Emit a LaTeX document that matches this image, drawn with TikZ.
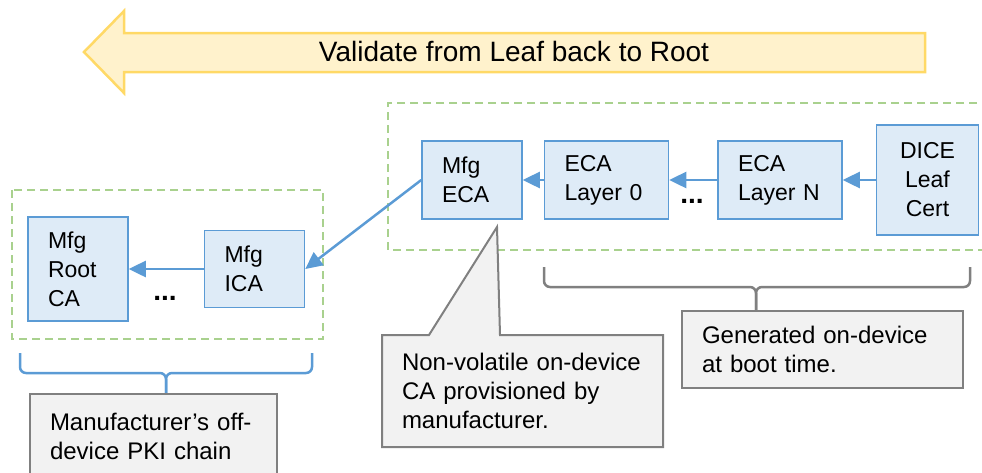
\documentclass[tikz,border=0pt]{standalone}
\usepackage{fontspec}
\setmainfont{Liberation Sans}
\usepackage{tikz}
\usetikzlibrary{positioning}
\usetikzlibrary{arrows.meta}

\definecolor{certfill}{HTML}{DEEBF7}
\definecolor{certblue}{HTML}{5B9BD5}
\definecolor{groupgreen}{HTML}{A9D18E}
\definecolor{bannerfill}{HTML}{FFF2CC}
\definecolor{bannerline}{HTML}{FFD966}
\definecolor{notefill}{HTML}{F2F2F2}
\definecolor{notegray}{HTML}{808080}

\begin{document}
\begin{tikzpicture}
      [x=1pt,y=-1pt,
       cert/.style={draw=certblue,fill=certfill,line width=1.5pt,align=left,inner xsep=20pt,font=\fontsize{23}{29}\selectfont},
       note/.style={draw=notegray,fill=notefill,line width=2pt,align=left,inner xsep=20pt,font=\fontsize{24}{29}\selectfont},
       link/.style={draw=certblue,line width=2.5pt,-{Triangle[length=17pt,width=16pt]}},
       group/.style={draw=groupgreen,line width=2.5pt,dash pattern=on 8pt off 5pt},
       bracket/.style={line width=2.5pt,rounded corners=6pt},
       gap/.style={font=\fontsize{28}{30}\selectfont\bfseries}]
    \useasboundingbox (0,0) rectangle (982,472);

    % validation direction
    \draw[fill=bannerfill,draw=bannerline,line width=2.5pt]
          (925,33) -- (124,33) -- (124,11) -- (84,52) -- (124,93) -- (124,72) -- (925,72) -- cycle;
    \node[font=\fontsize{28}{34}\selectfont,anchor=base] (validate) at (514,61) {Validate from Leaf back to Root};

    % groups
    \draw[group] (12,190) rectangle (323,339);
    \draw[group] (990,103) -| (388,250) -- (990,250);

    % on-device chain
    \node[cert,text width=60pt,minimum height=78pt]  (mfgeca)  at (472,180) {Mfg\\ECA};
    \node[cert,text width=84pt,minimum height=78pt]  (layer0)  [right=21pt of mfgeca] {ECA\\Layer 0};
    \node[cert,text width=84pt,minimum height=78pt]  (layerN)  [right=48pt of layer0] {ECA\\Layer~N};
    \node[cert,text width=62pt,minimum height=110pt,align=center]  (dice)  [right=33pt of layerN] {DICE\\Leaf\\Cert};
    \node[gap]  (gapN)  at (692,201) {...};

    % off-device chain
    \node[cert,text width=60pt,minimum height=104pt]  (root)  at (78,269) {Mfg\\Root\\CA};
    \node[cert,text width=60pt,minimum height=77pt]  (ica)  [right=75pt of root] {Mfg\\ICA};
    \node[gap]  (gapICA)  at (165,298) {...};

    \draw[link] (dice) -- (layerN);
    \draw[link] (layerN) -- (layer0);
    \draw[link] (layer0) -- (mfgeca);
    \draw[link] (mfgeca.west) -- (ica.east);
    \draw[link] (ica) -- (root);

    % braces
    \draw[bracket,draw=certblue] (20,353) |- (166,373) -- (166,393);
    \draw[bracket,draw=certblue] (312,353) |- (166,373) -- (166,393);
    \draw[bracket,draw=notegray] (544,267) |- (756,287) -- (756,310);
    \draw[bracket,draw=notegray] (970,267) |- (756,287) -- (756,310);

    % notes
    \node[note,text width=207pt,minimum height=84pt,anchor=north west]  (offdevice)  at (29,393) {Manufacturer’s off-\\device PKI chain};
    \node[note,text width=241pt,minimum height=77pt,anchor=north west]  (ondevice)  at (681,310) {Generated on-device\\at boot time.};
    \coordinate (provtip) at (497,227);
    \draw[draw=notegray,fill=notefill,line width=2pt,line join=miter]
          (382,335) -- (429,335) -- (provtip) -- (500,335) -- (663,335) |- (382,447) -- cycle;
    \node[note,draw=none,fill=none,text width=241pt,minimum height=112pt]  (provnote)  at (522.5,391) {Non-volatile on-device\\CA provisioned by\\manufacturer.};
\end{tikzpicture}
\end{document}
